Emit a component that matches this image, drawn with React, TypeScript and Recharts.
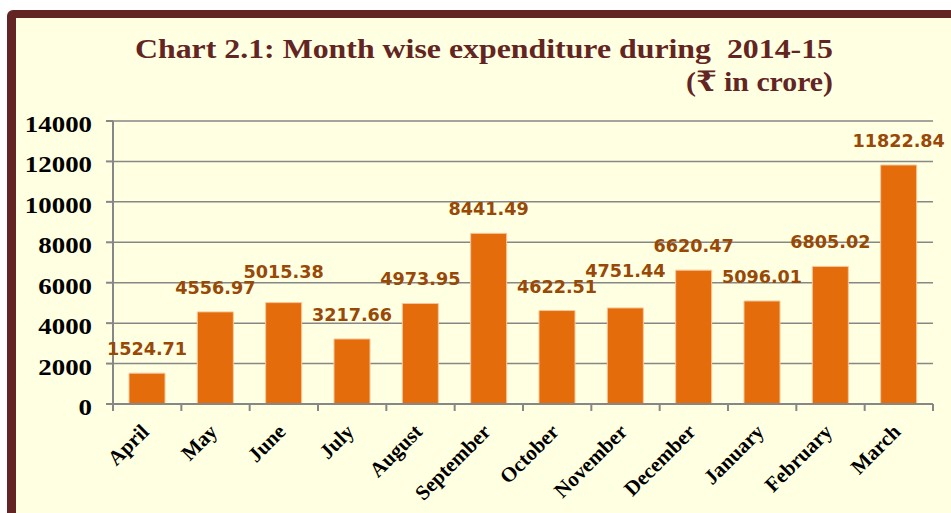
import React from "react";
import { BarChart, Bar, XAxis, YAxis, CartesianGrid, LabelList } from "recharts";

const months = ["April", "May", "June", "July", "August", "September", "October", "November", "December", "January", "February", "March"];
const expenditure = [1524.71, 4556.97, 5015.38, 3217.66, 4973.95, 8441.49, 4622.51, 4751.44, 6620.47, 5096.01, 6805.02, 11822.84];
const valueLabels = ["1524.71", "4556.97", "5015.38", "3217.66", "4973.95", "8441.49", "4622.51", "4751.44", "6620.47", "5096.01", "6805.02", "11822.84"];
const yTicks = [0, 2000, 4000, 6000, 8000, 10000, 12000, 14000];

const data = months.map((m, i) => ({ month: m, value: expenditure[i], label: valueLabels[i] }));

const AXIS = "#878787";
const BG = "#FFFFE1";
const FRAME = "#632523";
const LABEL_GAP = 18;
const LABEL_H = 13;

const YTick = (props: any) => {
  const { x, y, payload } = props;
  return (
    <g transform={`translate(${x},${y + 11}) scale(1.12,1)`}>
      <text x={0} y={0} textAnchor="end" fill="#000" fontFamily="'Liberation Serif', 'Times New Roman', serif" fontWeight="bold" fontSize={24}>
        {payload.value}
      </text>
    </g>
  );
};

const XTick = (props: any) => {
  const { x, y, payload, index, visibleTicksCount } = props;
  const off = payload.offset || 0;
  const last = index === visibleTicksCount - 1;
  return (
    <g>
      <line x1={x - off} x2={x - off} y1={y} y2={y + 7} stroke={AXIS} strokeWidth={2} />
      {last && <line x1={x + off} x2={x + off} y1={y} y2={y + 7} stroke={AXIS} strokeWidth={2} />}
      <g transform={`translate(${x + 3},${y + 29}) rotate(-45)`}>
        <text x={0} y={0} textAnchor="end" fill="#000" fontFamily="'Liberation Serif', 'Times New Roman', serif" fontWeight="bold" fontSize={21}>
          {payload.value}
        </text>
      </g>
    </g>
  );
};

export default function App() {
  // labels are placed above bars; a label that would collide with its left neighbour is lifted above it
  const placed: number[] = [];
  const renderLabel = (props: any) => {
    const { x, y, width, value, index } = props;
    if (index === 0) placed.length = 0;
    let bottom = y - LABEL_GAP;
    const prevBottom = placed[index - 1];
    if (prevBottom !== undefined) {
      const prevTop = prevBottom - LABEL_H;
      const top = bottom - LABEL_H;
      if (top < prevBottom && bottom > prevTop) bottom = prevTop - 3;
    }
    placed[index] = bottom;
    return (
      <text key={`lbl-${index}`} x={x + width / 2} y={bottom} textAnchor="middle" fill="#984807" fontFamily="'DejaVu Sans', Verdana, sans-serif" fontWeight="bold" fontSize={17.6}>
        {value}
      </text>
    );
  };

  return (
    <div style={{ position: "absolute", left: 0, top: 0, width: 951, height: 513, overflow: "hidden", background: "#fff" }}>
      <div
        style={{
          position: "absolute",
          left: 7,
          top: 10,
          width: 980,
          height: 501,
          border: `8px solid ${FRAME}`,
          borderLeftWidth: 9,
          borderRadius: 6,
          background: BG,
        }}
      />
      <svg style={{ position: "absolute", left: 0, top: 0 }} width={951} height={110}>
        <text x={135} y={58} xmlSpace="preserve" style={{ whiteSpace: "pre" }} textLength={698} lengthAdjust="spacingAndGlyphs" fill={FRAME} fontFamily="'Liberation Serif', 'Times New Roman', serif" fontWeight="bold" fontSize={28}>
          {"Chart 2.1: Month wise expenditure during  2014-15"}
        </text>
        <text x={686} y={91} textLength={147} lengthAdjust="spacingAndGlyphs" fill={FRAME} fontFamily="'Liberation Serif', 'DejaVu Serif', serif" fontWeight="bold" fontSize={28}>
          (₹ in crore)
        </text>
      </svg>
      <div style={{ position: "absolute", left: 0, top: 0 }}>
        <BarChart width={951} height={513} data={data} margin={{ top: 121, right: 18, bottom: 9, left: 0 }}>
          <CartesianGrid vertical={false} stroke={AXIS} strokeWidth={1.5} />
          <YAxis
            width={113}
            domain={[0, 14000]}
            ticks={yTicks}
            interval={0}
            axisLine={{ stroke: AXIS, strokeWidth: 2 }}
            tickLine={{ stroke: AXIS, strokeWidth: 2 }}
            tickSize={7}
            tickMargin={14}
            tick={<YTick />}
          />
          <XAxis
            dataKey="month"
            height={100}
            interval={0}
            axisLine={{ stroke: AXIS, strokeWidth: 2 }}
            tickLine={false}
            tickSize={0}
            tickMargin={0}
            tick={<XTick />}
          />
          <Bar dataKey="value" fill="#E46C0A" stroke="#F7C69C" strokeWidth={1} barSize={36} isAnimationActive={false}>
            <LabelList dataKey="label" content={renderLabel} />
          </Bar>
        </BarChart>
      </div>
    </div>
  );
}
